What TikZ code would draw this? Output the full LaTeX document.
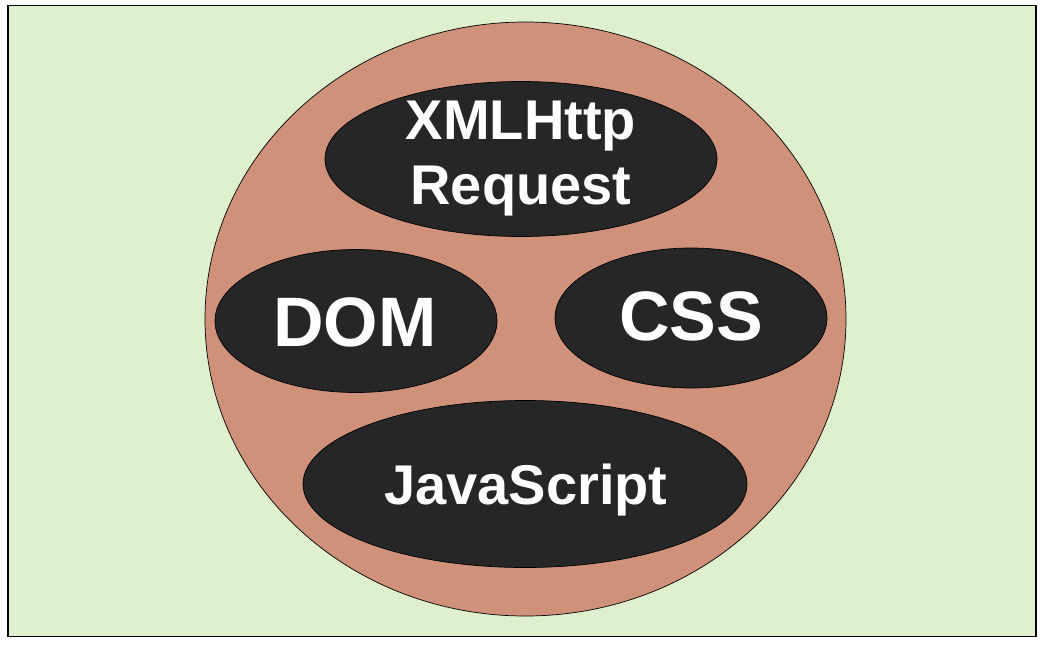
\documentclass[tikz,border=0pt]{standalone}
\usepackage{fontspec}
\setmainfont{Liberation Sans}
\usetikzlibrary{positioning,shapes.geometric}
\definecolor{bgreen}{HTML}{DFF0CE}
\definecolor{salmon}{HTML}{D0917A}
\definecolor{blob}{HTML}{262626}
\tikzset{
  tech/.style={draw=black, line width=0.7pt, fill=blob, ellipse, inner sep=0pt},
  techtxt/.style={text=white, font=\bfseries, align=center, inner sep=0pt}
}

\begin{document}
\begin{tikzpicture}[x=1pt, y=-1pt]
    % sfondo
    \useasboundingbox (0,0) rectangle (1049,646);
    \node[draw, line width=1.5pt, fill=bgreen, rectangle, minimum width=1028pt, minimum height=631pt, inner sep=0pt] (bg) at (522,321) {};
    % cerchio grande
    \node[draw=black, line width=0.7pt, fill=salmon, ellipse, minimum width=641pt, minimum height=594pt, inner sep=0pt] (web) at (525.5,319) {};
    % quattro ellissi
    \node[tech, minimum width=392pt, minimum height=155pt] (xhr) at (521,159) {};
    \node[tech, minimum width=282pt, minimum height=143pt] (dom) at (356,321) {};
    \node[tech, minimum width=272pt, minimum height=140pt] (css) at (691,318) {};
    \node[tech, minimum width=444pt, minimum height=167pt] (js) at (525,484) {};
    % testi
    \node[techtxt, font=\fontsize{56}{65}\selectfont\bfseries] (xhrtxt) at (521,159) {XMLHttp\\Request};
    \node[techtxt, font=\fontsize{70}{80}\selectfont\bfseries] (domtxt) at (355,322) {DOM};
    \node[techtxt, font=\fontsize{70}{80}\selectfont\bfseries] (csstxt) at (691,316) {CSS};
    \node[techtxt, font=\fontsize{56}{65}\selectfont\bfseries, text depth=0pt] (jstxt) at (526,484) {JavaScript};
  \end{tikzpicture}
\end{document}
